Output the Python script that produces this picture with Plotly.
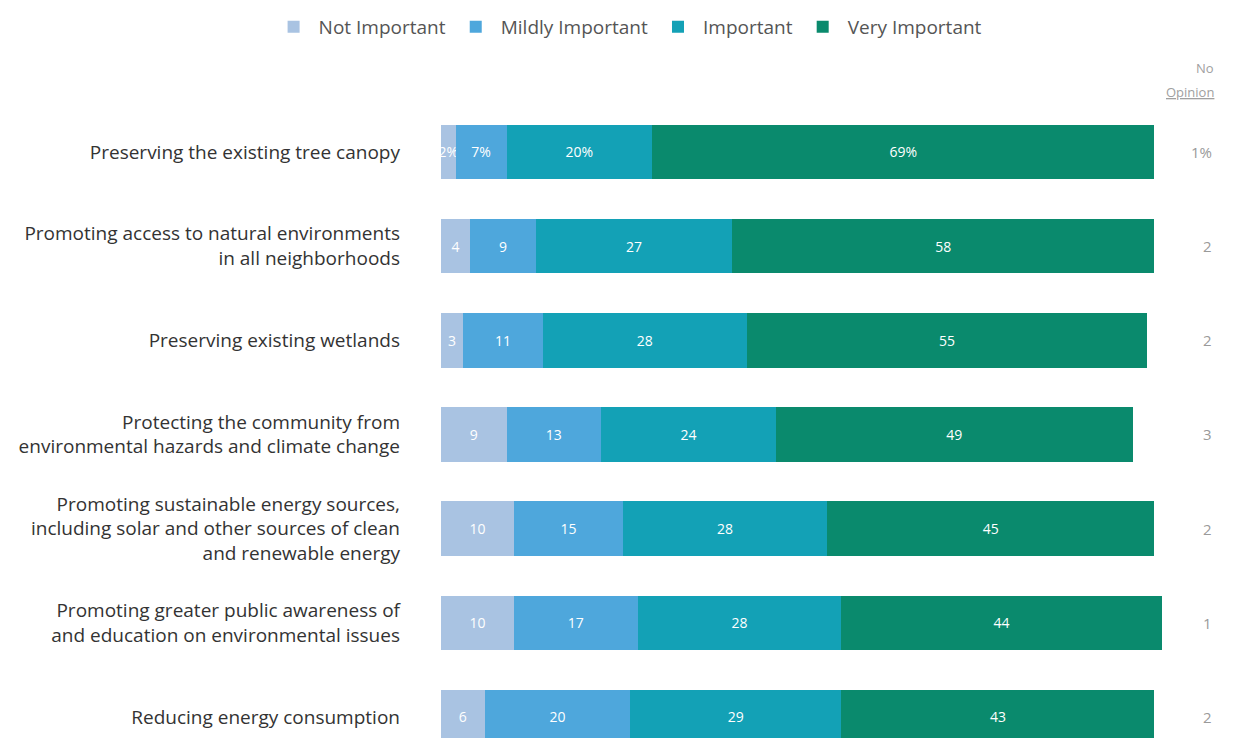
import plotly.graph_objects as go

items = [
    "Preserving the existing tree canopy",
    "Promoting access to natural environments<br>in all neighborhoods",
    "Preserving existing wetlands",
    "Protecting the community from<br>environmental hazards and climate change",
    "Promoting sustainable energy sources,<br>including solar and other sources of clean<br>and renewable energy",
    "Promoting greater public awareness of<br>and education on environmental issues",
    "Reducing energy consumption",
]
not_important = [2, 4, 3, 9, 10, 10, 6]
mildly_important = [7, 9, 11, 13, 15, 17, 20]
important = [20, 27, 28, 24, 28, 28, 29]
very_important = [69, 58, 55, 49, 45, 44, 43]
no_opinion = ["1%", "2", "2", "3", "2", "1", "2"]

series = [
    ("Not Important", not_important, "#a9c3e2"),
    ("Mildly Important", mildly_important, "#4ea7dc"),
    ("Important", important, "#13a1b6"),
    ("Very Important", very_important, "#0a8a6d"),
]

fig = go.Figure()
for name, vals, color in series:
    # first row shows percent signs, the rest plain numbers
    txt = [f"{v}%" if i == 0 else str(v) for i, v in enumerate(vals)]
    fig.add_trace(go.Bar(
        y=items, x=vals, name=name, orientation="h",
        marker=dict(color=color, line=dict(width=0)),
        text=txt, textposition="inside", insidetextanchor="middle",
        textangle=0, textfont=dict(color="white", size=14),
        hoverinfo="skip",
    ))

for lab, val in zip(items, no_opinion):
    fig.add_annotation(x=1.062, y=lab, xref="paper", yref="y", text=val,
                       showarrow=False, font=dict(size=15, color="#9a9a9a"))

# "No Opinion" column header
fig.add_annotation(x=1.064, y=1.042, xref="paper", yref="paper", text="No",
                   yanchor="middle", showarrow=False, font=dict(size=13, color="#a0a0a0"))
fig.add_annotation(x=1.064, y=1.005, xref="paper", yref="paper", text="<u>Opinion</u>",
                   yanchor="middle", showarrow=False, font=dict(size=13, color="#a0a0a0"))

fig.update_layout(
    barmode="stack",
    bargap=0.42,
    width=1243, height=738,
    margin=dict(l=433, r=82, t=87, b=0),
    paper_bgcolor="white", plot_bgcolor="white",
    font=dict(family="Open Sans", size=19, color="#333333"),
    uniformtext=dict(minsize=13, mode="show"),
    legend=dict(orientation="h", x=0.257, xanchor="center", y=1.0, yref="container",
                yanchor="top", font=dict(size=19, color="#555555"),
                itemwidth=40, traceorder="normal"),
    showlegend=True,
)
fig.update_xaxes(range=[0, 100], showgrid=False, zeroline=False, showticklabels=False)
fig.update_yaxes(range=[6.308, -0.605], showgrid=False, zeroline=False,
                 ticklabelstandoff=40, tickfont=dict(size=19, color="#333333"))

fig.write_html("out.html")
